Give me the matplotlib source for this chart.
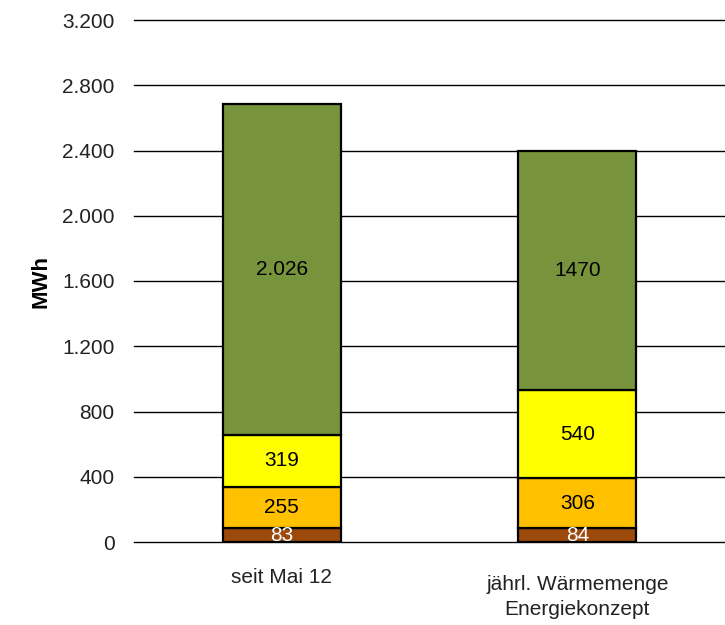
import numpy as np
import matplotlib.pyplot as plt
import matplotlib.transforms as mtransforms

categories = ['seit Mai 12', 'jährl. Wärmemenge\nEnergiekonzept']
brown = [83, 84]
orange = [255, 306]
yellow = [319, 540]
green = [2026, 1470]
green_labels = ['2.026', '1470']
yticks = [0, 400, 800, 1200, 1600, 2000, 2400, 2800, 3200]
ytick_labels = ['0', '400', '800', '1.200', '1.600', '2.000', '2.400', '2.800', '3.200']

plt.rcParams['font.family'] = ['Liberation Sans', 'DejaVu Sans']

fig = plt.figure(figsize=(7.25, 6.25), dpi=100)
ax = fig.add_axes([0.185, 0.1328, 0.815, 0.8352])

x = np.arange(len(categories))
w = 0.4
segments = [
    (brown, '#9C4A0C', [str(v) for v in brown], 'white'),
    (orange, '#FFC000', [str(v) for v in orange], 'black'),
    (yellow, '#FFFF00', [str(v) for v in yellow], 'black'),
    (green, '#77933C', green_labels, 'black'),
]
bottom = np.zeros(len(categories))
for vals, color, labels, tcol in segments:
    vals = np.array(vals, dtype=float)
    ax.bar(x, vals, w, bottom=bottom, color=color, edgecolor='black',
           linewidth=1.6, zorder=3)
    for xi, b, v, lab in zip(x, bottom, vals, labels):
        ax.text(xi, b + v / 2, lab, ha='center', va='center', fontsize=15,
                color=tcol, zorder=4)
    bottom += vals

ax.set_xlim(-0.5, 1.5)
ax.set_ylim(0, 3200)
ax.set_yticks(yticks)
ax.set_yticklabels(ytick_labels, fontsize=15, color='#222222')
ax.yaxis.grid(True, color='black', linewidth=1.0, zorder=0)
for gl in ax.get_ygridlines():
    gl.set_clip_on(False)
ax.set_axisbelow(True)
ax.tick_params(axis='y', length=0, pad=14)
ax.set_xticks([])
for s in ax.spines.values():
    s.set_visible(False)
ax.set_ylabel('MWh', fontsize=16, fontweight='bold', labelpad=8)

# category labels below the bars
trans = mtransforms.blended_transform_factory(ax.transData, fig.transFigure)
label_tops = [1 - 568 / 625, 1 - 575 / 625]
for xi, cat, yt in zip(x, categories, label_tops):
    ax.text(xi, yt, cat, transform=trans, ha='center', va='top', fontsize=15,
            color='#222222', linespacing=1.4)

fig.savefig('out.png', dpi=100)
